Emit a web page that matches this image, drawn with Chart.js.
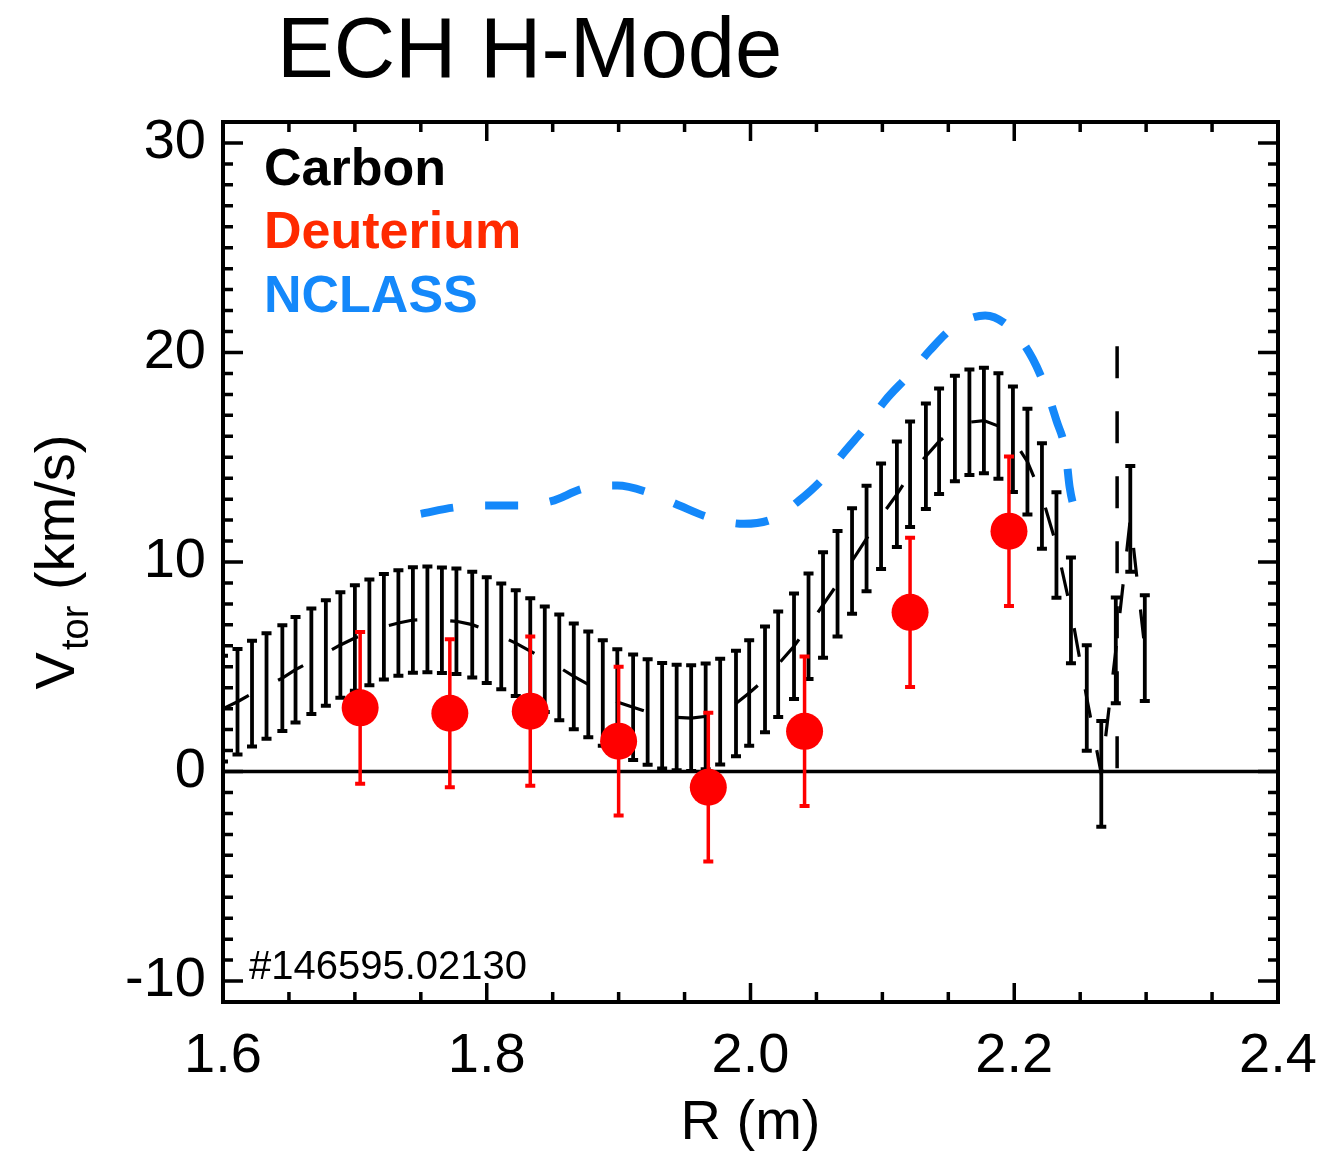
<!DOCTYPE html>
<html>
<head>
<meta charset="utf-8">
<title>ECH H-Mode</title>
<script src="https://cdn.jsdelivr.net/npm/chart.js@4.4.1/dist/chart.umd.min.js"></script>
<style>
  html, body { margin: 0; padding: 0; background: #fff; }
  #wrap { width: 1327px; height: 1153px; }
</style>
</head>
<body>
<div id="wrap"><canvas id="chart" width="1327" height="1153"></canvas></div>
<script>
const FONT = '"Liberation Sans", Arial, Helvetica, sans-serif';

// Carbon (CER) toroidal velocity, km/s, with a constant error bar
const carbonR = [1.600, 1.611, 1.622, 1.633, 1.645, 1.655, 1.667, 1.678, 1.689, 1.700,
  1.711, 1.722, 1.733, 1.744, 1.755, 1.766, 1.777, 1.789, 1.800, 1.811,
  1.822, 1.833, 1.844, 1.855, 1.866, 1.877, 1.888, 1.899, 1.911, 1.922,
  1.933, 1.944, 1.955, 1.966, 1.977, 1.989, 1.999, 2.011, 2.021, 2.033,
  2.044, 2.055, 2.066, 2.077, 2.088, 2.099, 2.111, 2.121, 2.133, 2.143,
  2.155, 2.166, 2.177, 2.188, 2.199, 2.210, 2.221, 2.232, 2.243, 2.255,
  2.266, 2.277, 2.288, 2.299];
const carbonV = [3.0, 3.33, 3.72, 4.08, 4.46, 4.86, 5.26, 5.66, 6.04, 6.37,
  6.64, 6.91, 7.09, 7.23, 7.26, 7.22, 7.17, 7.01, 6.75, 6.45,
  6.13, 5.75, 5.36, 4.97, 4.54, 4.16, 3.75, 3.32, 3.07, 2.84,
  2.66, 2.58, 2.55, 2.63, 2.86, 3.25, 3.75, 4.40, 5.12, 5.98,
  6.93, 7.95, 8.96, 10.05, 11.12, 12.18, 13.23, 14.19, 15.05, 15.76,
  16.37, 16.67, 16.75, 16.49, 15.86, 14.79, 13.15, 10.81, 7.69, 3.51,
  -0.11, 5.78, 12.06, 5.89];
const carbonErr = 2.52;

// Deuterium
const deutR = [1.704, 1.772, 1.833, 1.900, 1.968, 2.041, 2.121, 2.196];
const deutV = [3.04, 2.78, 2.88, 1.45, -0.75, 1.92, 7.60, 11.47];
const deutErr = [3.62, 3.53, 3.56, 3.55, 3.55, 3.57, 3.56, 3.57];

// NCLASS prediction
const nclassR = [1.750, 1.775, 1.800, 1.824, 1.849, 1.873, 1.899, 1.922, 1.946, 1.968,
  1.995, 2.017, 2.037, 2.056, 2.071, 2.088, 2.102, 2.121, 2.136, 2.154,
  2.178, 2.199, 2.214, 2.224, 2.232, 2.239, 2.242, 2.248];
const nclassV = [12.3, 12.6, 12.7, 12.7, 12.9, 13.5, 13.65, 13.33, 12.7, 12.14,
  11.82, 12.06, 12.94, 14.05, 15.24, 16.5, 17.7, 18.98, 20.1, 21.2,
  21.77, 21.05, 19.7, 18.27, 16.75, 15.24, 13.57, 12.0];

// separatrix marker
const sepR = [2.278, 2.278];
const sepV = [20.3, 0];

const xTicks = [1.6, 1.8, 2.0, 2.2, 2.4];
const yTicks = [-10, 0, 10, 20, 30];

const BLUE = 'rgb(20,136,250)';
const RED = '#ff0000';

const pts = (xs, ys) => xs.map((x, i) => ({ x, y: ys[i] }));

// draws vertical error bars for datasets that carry an `errors` field
const errorBars = {
  id: 'errorBars',
  beforeDatasetDraw(chart, args) {
    const ds = chart.data.datasets[args.index];
    if (!ds.errors) return;
    const { ctx, chartArea, scales: { x, y } } = chart;
    ctx.save();
    ctx.beginPath();
    ctx.rect(chartArea.left, chartArea.top, chartArea.right - chartArea.left, chartArea.bottom - chartArea.top);
    ctx.clip();
    ctx.strokeStyle = ds.errColor;
    ds.data.forEach((p, i) => {
      const e = Array.isArray(ds.errors) ? ds.errors[i] : ds.errors;
      const px = x.getPixelForValue(p.x);
      const top = y.getPixelForValue(p.y + e);
      const bot = y.getPixelForValue(p.y - e);
      ctx.lineWidth = ds.errWidth;
      ctx.beginPath();
      ctx.moveTo(px, top);
      ctx.lineTo(px, bot);
      ctx.stroke();
      ctx.lineWidth = 4;
      ctx.beginPath();
      ctx.moveTo(px - ds.capHalf, top);
      ctx.lineTo(px + ds.capHalf, top);
      ctx.moveTo(px - ds.capHalf, bot);
      ctx.lineTo(px + ds.capHalf, bot);
      ctx.stroke();
    });
    ctx.restore();
  }
};

// IDL-style box with inward major/minor ticks, plus texts
const frame = {
  id: 'frame',
  afterDatasetsDraw(chart) {
    const { ctx, chartArea: a, scales: { x, y } } = chart;
    ctx.save();
    ctx.strokeStyle = '#000';
    ctx.lineWidth = 3.5;
    ctx.beginPath();
    for (let k = 0; k <= 16; k++) {
      const px = x.getPixelForValue(1.6 + k * 0.05);
      const len = k % 4 === 0 ? 19 : 10;
      ctx.moveTo(px, a.bottom); ctx.lineTo(px, a.bottom - len);
      ctx.moveTo(px, a.top); ctx.lineTo(px, a.top + len);
    }
    for (let v = -11; v <= 31; v++) {
      const py = y.getPixelForValue(v);
      const len = v % 10 === 0 ? 20 : 10;
      ctx.moveTo(a.left, py); ctx.lineTo(a.left + len, py);
      ctx.moveTo(a.right, py); ctx.lineTo(a.right - len, py);
    }
    ctx.stroke();
    ctx.lineWidth = 4;
    ctx.strokeRect(a.left, a.top, a.right - a.left, a.bottom - a.top);

    ctx.fillStyle = '#000';
    ctx.textBaseline = 'alphabetic';
    ctx.textAlign = 'left';
    ctx.font = `85px ${FONT}`;
    ctx.fillText('ECH H-Mode', 277, 77);

    ctx.font = `bold 52px ${FONT}`;
    ctx.fillStyle = '#000';
    ctx.fillText('Carbon', 264, 185);
    ctx.fillStyle = '#ff2a00';
    ctx.fillText('Deuterium', 264, 248);
    ctx.fillStyle = BLUE;
    ctx.fillText('NCLASS', 264, 312);

    ctx.fillStyle = '#000';
    ctx.font = `40px ${FONT}`;
    ctx.fillText('#146595.02130', 249, 979);

    ctx.font = `56px ${FONT}`;
    ctx.textAlign = 'center';
    ctx.fillText('R (m)', (a.left + a.right) / 2, 1139);

    // rotated y title with subscript
    ctx.textAlign = 'left';
    ctx.font = `56px ${FONT}`;
    const wV = ctx.measureText('V').width;
    const wRest = ctx.measureText(' (km/s)').width;
    ctx.font = `38px ${FONT}`;
    const wSub = ctx.measureText('tor').width;
    const total = wV + 2 + wSub + wRest;
    ctx.translate(74, (a.top + a.bottom) / 2 + total / 2);
    ctx.rotate(-Math.PI / 2);
    ctx.font = `56px ${FONT}`;
    ctx.fillText('V', 0, 0);
    ctx.font = `38px ${FONT}`;
    ctx.fillText('tor', wV + 2, 14);
    ctx.font = `56px ${FONT}`;
    ctx.fillText(' (km/s)', wV + 2 + wSub, 0);
    ctx.restore();
  }
};

new Chart(document.getElementById('chart'), {
  type: 'scatter',
  data: {
    datasets: [
      {
        data: pts([1.6, 2.4], [0, 0]),
        showLine: true, borderColor: '#000', borderWidth: 3.5,
        pointRadius: 0, order: 6
      },
      {
        data: pts(sepR, sepV),
        showLine: true, borderColor: '#000', borderWidth: 3.5,
        borderDash: [32, 33], pointRadius: 0, order: 5
      },
      {
        label: 'Carbon',
        data: pts(carbonR, carbonV),
        showLine: true, borderColor: '#000', borderWidth: 3.2,
        borderDash: [29, 33], pointRadius: 0, order: 4,
        errors: carbonErr, errColor: '#000', errWidth: 3.8, capHalf: 5
      },
      {
        label: 'Deuterium',
        data: pts(deutR, deutV),
        backgroundColor: RED, borderWidth: 0,
        pointRadius: 18.5, order: 3,
        errors: deutErr, errColor: RED, errWidth: 3.5, capHalf: 5
      },
      {
        label: 'NCLASS',
        data: pts(nclassR, nclassV),
        showLine: true, borderColor: BLUE, borderWidth: 8,
        borderDash: [33, 32], pointRadius: 0,
        cubicInterpolationMode: 'monotone', order: 1
      }
    ]
  },
  options: {
    responsive: false,
    devicePixelRatio: 1,
    animation: false,
    events: [],
    layout: { padding: { left: 0, right: 49, top: 122, bottom: 0 } },
    plugins: { legend: { display: false }, tooltip: { enabled: false } },
    scales: {
      x: {
        type: 'linear', min: 1.6, max: 2.4,
        grid: { display: false, drawTicks: false },
        border: { display: false },
        afterBuildTicks: s => { s.ticks = xTicks.map(v => ({ value: v })); },
        afterFit: s => { s.height = 151; s.paddingLeft = 0; s.paddingRight = 0; },
        ticks: {
          autoSkip: false, maxRotation: 0, padding: 21, color: '#000',
          font: { family: FONT, size: 56 },
          callback: v => v.toFixed(1)
        }
      },
      y: {
        type: 'linear', min: -11, max: 31,
        grid: { display: false, drawTicks: false },
        border: { display: false },
        afterBuildTicks: s => { s.ticks = yTicks.map(v => ({ value: v })); },
        afterFit: s => { s.width = 223; s.paddingTop = 0; s.paddingBottom = 0; },
        ticks: {
          autoSkip: false, padding: 17, color: '#000',
          font: { family: FONT, size: 56 },
          callback: v => String(v)
        }
      }
    }
  },
  plugins: [errorBars, frame]
});
</script>
</body>
</html>
